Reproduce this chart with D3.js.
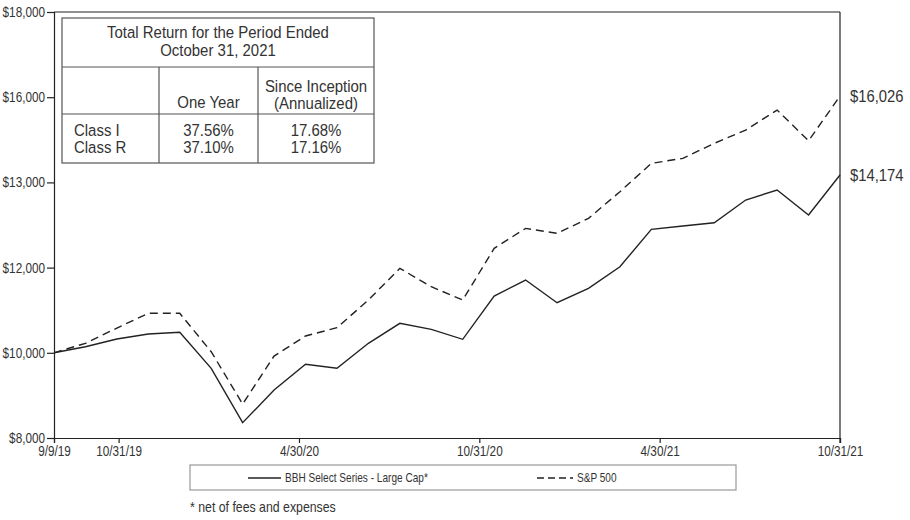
<!DOCTYPE html>
<html><head><meta charset="utf-8">
<script src="https://cdn.jsdelivr.net/npm/d3@7"></script>
<style>
body{margin:0;background:#fff;}
svg{display:block;}
text{font-family:"Liberation Sans",Arial,sans-serif;fill:#333;}
</style></head>
<body>
<svg id="c" width="910" height="520"></svg>
<script>
const dates = ["9/9/19","10/31/19","11/30/19","12/31/19","1/31/20","2/29/20","3/31/20","4/30/20","5/31/20","6/30/20","7/31/20","8/31/20","9/30/20","10/31/20","11/30/20","12/31/20","1/31/21","2/28/21","3/31/21","4/30/21","5/31/21","6/30/21","7/31/21","8/31/21","9/30/21","10/31/21"];
const bbh = [10000,10143,10323,10441,10481,9636,8359,9127,9730,9636,10223,10692,10551,10317,11333,11708,11176,11513,12020,12898,12976,13053,13586,13821,13234,14174];
const sp500 = [10000,10223,10580,10927,10927,10025,8798,9924,10394,10589,11239,11983,11551,11239,12452,12921,12804,13156,13781,14447,14565,14917,15229,15698,14978,16026];
const yTickValues = [8000,10000,12000,14000,16000,18000];
const yTickLabels = ["$8,000","$10,000","$12,000","$13,000","$16,000","$18,000"];
const xTickMonths = [-0.15,2,8,14,20,26];
const xTickLabels = ["9/9/19","10/31/19","4/30/20","10/31/20","4/30/21","10/31/21"];
const endLabels = ["$16,026","$14,174"];
const seriesNames = ["BBH Select Series - Large Cap*","S&P 500"];
const tableTitle = ["Total Return for the Period Ended","October 31, 2021"];
const tableHeaders = ["", "One Year", ["Since Inception","(Annualized)"]];
const tableRows = [["Class I","37.56%","17.68%"],["Class R","37.10%","17.16%"]];
const footnote = "* net of fees and expenses";

const svg = d3.select("#c");
const L=54, R=840, T=12, B=438;
const x = d3.scalePoint().domain(dates).range([L,R]);
const xT = d3.scaleLinear().domain([-0.15,26]).range([L,R]);
const y = d3.scaleLinear().domain([8000,18000]).range([B,T]);
const K = 0.84;
function condense(sel, k){
  sel.each(function(){
    const t=d3.select(this); const ax=+(t.attr("x")||0);
    t.attr("transform",`translate(${ax},0) scale(${k},1) translate(${-ax},0)`);
  });
  return sel;
}

// frame
svg.append("line").attr("x1",L).attr("x2",R).attr("y1",T).attr("y2",T).attr("stroke","#222").attr("stroke-width",1.2);
svg.append("line").attr("x1",R).attr("x2",R).attr("y1",T).attr("y2",B+5).attr("stroke","#222").attr("stroke-width",1.2);

// y axis
const ya = svg.append("g").attr("transform",`translate(${L},0)`)
  .call(d3.axisLeft(y).tickValues(yTickValues).tickSize(7).tickPadding(2).tickFormat((d,i)=>yTickLabels[i]));
ya.select(".domain").attr("stroke","#222").attr("stroke-width",1.2);
ya.selectAll(".tick line").attr("stroke","#222").attr("stroke-width",1.2);
condense(ya.selectAll(".tick text").style("font-size","14px").attr("fill","#333"),K);

// x axis
const xa = svg.append("g").attr("transform",`translate(0,${B})`)
  .call(d3.axisBottom(xT).tickValues(xTickMonths).tickSize(5).tickPadding(3).tickFormat((d,i)=>xTickLabels[i]));
xa.select(".domain").attr("stroke","#222").attr("stroke-width",1.2);
xa.selectAll(".tick line").attr("stroke","#222").attr("stroke-width",1.2);
condense(xa.selectAll(".tick text").style("font-size","14px").attr("fill","#333"),K);

// lines
const line = d3.line().x((d,i)=>x(dates[i])).y(d=>y(d));
svg.append("path").datum(sp500).attr("d",line).attr("fill","none").attr("stroke","#222").attr("stroke-width",1.4).attr("stroke-dasharray","8,5");
svg.append("path").datum(bbh).attr("d",line).attr("fill","none").attr("stroke","#222").attr("stroke-width",1.4);

// end labels
[sp500, bbh].forEach((s,k)=>{
  condense(svg.append("text").attr("x",R+10).attr("y",y(s[s.length-1])).attr("dy","0.35em")
    .style("font-size","17px").text(endLabels[k]),0.87);
});

// table
const tb = svg.append("g");
const tx0=62, tx1=159, tx2=258, tx3=374, ty0=18, ty1=67, ty2=114, ty3=163;
tb.append("rect").attr("x",tx0).attr("y",ty0).attr("width",tx3-tx0).attr("height",ty3-ty0).attr("fill","#fff").attr("stroke","#555").attr("stroke-width",1.2);
[[tx0,tx3,ty1,ty1],[tx0,tx3,ty2,ty2],[tx1,tx1,ty1,ty3],[tx2,tx2,ty1,ty3]].forEach(l=>{
  tb.append("line").attr("x1",l[0]).attr("x2",l[1]).attr("y1",l[2]).attr("y2",l[3]).attr("stroke","#555").attr("stroke-width",1.2);
});
const tfs="17px";
function tt(xx,yy,t,anchor){
  return condense(tb.append("text").attr("x",xx).attr("y",yy).attr("dy","0.35em").attr("text-anchor",anchor||"middle").style("font-size",tfs).text(t),0.88);
}
tableTitle.forEach((t,i)=>tt((tx0+tx3)/2,32+i*18,t));
tt((tx1+tx2)/2,102,tableHeaders[1]);
tableHeaders[2].forEach((t,i)=>tt((tx2+tx3)/2,86+i*17,t));
tableRows.forEach((r,i)=>{
  const yy=130+i*17;
  tt(74,yy,r[0],"start");
  tt((tx1+tx2)/2,yy,r[1]);
  tt((tx2+tx3)/2,yy,r[2]);
});

// legend
const lg = svg.append("g");
lg.append("rect").attr("x",190).attr("y",465).attr("width",546).attr("height",25).attr("fill","#fff").attr("stroke","#999").attr("stroke-width",1.2);
lg.append("line").attr("x1",248).attr("x2",281).attr("y1",478).attr("y2",478).attr("stroke","#222").attr("stroke-width",1.6);
condense(lg.append("text").attr("x",285).attr("y",478).attr("dy","0.35em").style("font-size","12px").text(seriesNames[0]),0.84);
lg.append("line").attr("x1",537).attr("x2",573).attr("y1",478).attr("y2",478).attr("stroke","#222").attr("stroke-width",1.6).attr("stroke-dasharray","7,4");
condense(lg.append("text").attr("x",577).attr("y",478).attr("dy","0.35em").style("font-size","12px").text(seriesNames[1]),0.84);

condense(svg.append("text").attr("x",190).attr("y",507).attr("dy","0.35em").style("font-size","14px").text(footnote),0.88);
</script>
</body></html>
